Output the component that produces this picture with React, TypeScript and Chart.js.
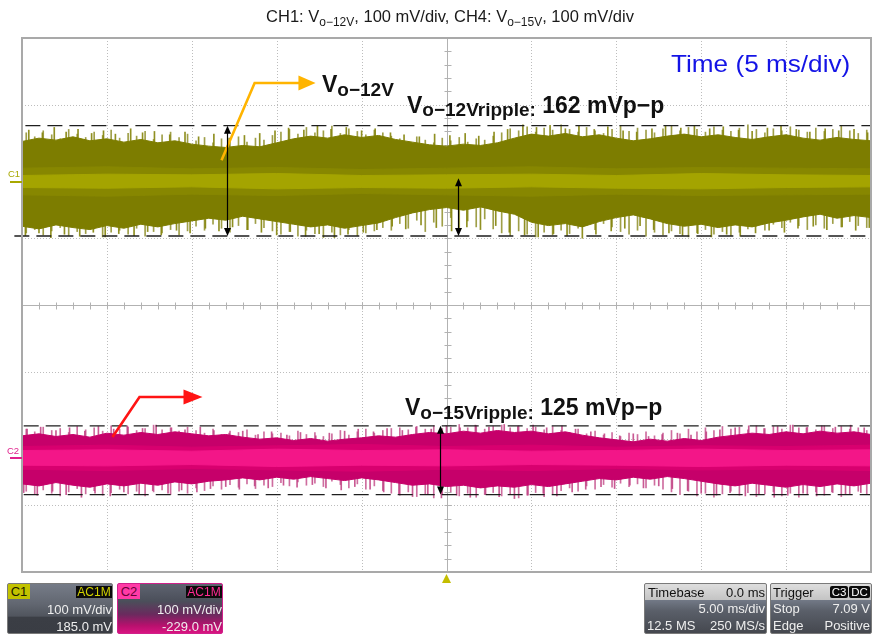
import React, { useEffect, useRef } from "react";
import { Chart, registerables } from "chart.js";

Chart.register(...registerables);

const FONT = '"Liberation Sans", Arial, Helvetica, sans-serif';

// ---------- axes ----------
const timeMin = -25; // ms (5 ms/div, 10 div)
const timeMax = 25;
const mvMin = -400; // mV (100 mV/div, 8 div)
const mvMax = 400;
const gridTimes = [-25, -20, -15, -10, -5, 0, 5, 10, 15, 20, 25];
const gridMv = [-400, -300, -200, -100, 0, 100, 200, 300, 400];

// ---------- channel offsets / cursors ----------
const c1Center = 185;
const c2Center = -229;
const c1Cursors = [268.6, 103.4];
const c2Cursors = [-181, -284];

// ---------- envelope samples (1 ms apart) ----------
const envTime = [-25, -24, -23, -22, -21, -20, -19, -18, -17, -16, -15, -14, -13, -12, -11, -10, -9, -8, -7, -6, -5, -4, -3, -2, -1, 0, 1, 2, 3, 4, 5, 6, 7, 8, 9, 10, 11, 12, 13, 14, 15, 16, 17, 18, 19, 20, 21, 22, 23, 24, 25];
const c1Upper = [245, 250, 247, 252, 246, 249, 244, 248, 243, 246, 241, 238, 236, 239, 237, 243, 249, 253, 250, 255, 251, 254, 248, 244, 240, 238, 241, 239, 243, 250, 256, 253, 257, 252, 255, 250, 246, 249, 253, 256, 252, 255, 251, 248, 252, 255, 250, 247, 251, 248, 246];
const c1Lower = [118, 114, 120, 116, 113, 119, 115, 121, 117, 122, 126, 130, 127, 133, 129, 125, 121, 117, 120, 115, 119, 123, 131, 138, 143, 146, 142, 147, 141, 136, 124, 119, 122, 117, 125, 131, 135, 129, 122, 118, 121, 116, 120, 117, 123, 127, 132, 136, 130, 134, 131];
const c2Upper = [-196, -193, -197, -194, -198, -192, -195, -191, -194, -190, -193, -196, -194, -198, -201, -199, -203, -200, -204, -201, -199, -196, -198, -194, -191, -193, -189, -192, -188, -191, -189, -193, -190, -195, -199, -202, -205, -201, -204, -200, -203, -198, -195, -192, -194, -190, -193, -189, -192, -190, -194];
const c2Lower = [-268, -271, -266, -270, -273, -268, -271, -267, -270, -265, -268, -264, -262, -259, -262, -258, -261, -257, -260, -263, -259, -262, -266, -270, -268, -272, -270, -274, -271, -273, -269, -272, -268, -264, -260, -262, -258, -261, -257, -260, -264, -268, -271, -267, -270, -273, -269, -272, -268, -271, -267];

// ---------- inner (dense) bands, 5 ms apart ----------
const bandTime = [-25, -20, -15, -10, -5, 0, 5, 10, 15, 20, 25];
const c1MidUpper = [205, 207, 204, 206, 203, 205, 207, 204, 206, 205, 204];
const c1MidLower = [165, 163, 166, 164, 167, 165, 163, 166, 164, 165, 166];
const c1CoreUpper = [194, 196, 195, 197, 194, 195, 196, 194, 197, 195, 194];
const c1CoreLower = [176, 175, 177, 174, 176, 175, 177, 175, 174, 176, 177];
const c2MidUpper = [-212, -210, -213, -211, -209, -212, -210, -213, -211, -212, -210];
const c2MidLower = [-246, -248, -245, -247, -249, -246, -248, -245, -247, -246, -248];
const c2CoreUpper = [-218, -217, -219, -216, -218, -217, -219, -218, -216, -218, -217];
const c2CoreLower = [-240, -241, -239, -242, -240, -241, -239, -240, -242, -240, -241];

// ---------- noise spikes [time ms, peak mV] ----------
const c1SpikesUp: [number, number][] = [[-24.6, 262], [-23.8, 258], [-23.1, 266], [-22.4, 259], [-21.7, 263], [-20.9, 257], [-20.2, 261], [-19.5, 256], [-18.6, 264], [-17.9, 258], [-17.2, 260], [-16.3, 255], [-15.4, 259], [-14.6, 252], [-13.7, 256], [-12.8, 250], [-11.9, 254], [-11.0, 257], [-10.1, 261], [-9.3, 265], [-8.4, 262], [-7.6, 268], [-6.8, 263], [-5.9, 266], [-5.0, 261], [-4.2, 264], [-3.3, 258], [-2.5, 255], [-1.6, 252], [-0.7, 256], [0.2, 254], [1.1, 257], [1.9, 253], [2.8, 259], [3.6, 263], [4.5, 270], [5.3, 266], [6.1, 269], [7.0, 264], [7.8, 268], [8.7, 263], [9.5, 267], [10.4, 261], [11.2, 259], [12.1, 264], [12.9, 268], [13.8, 265], [14.6, 269], [15.5, 264], [16.3, 267], [17.2, 262], [18.0, 260], [18.9, 265], [19.7, 268], [20.6, 263], [21.4, 259], [22.3, 264], [23.1, 261], [24.0, 263], [24.8, 258]];
const c1SpikesDown: [number, number][] = [[-24.8, 104], [-24.0, 108], [-23.3, 101], [-22.5, 106], [-21.6, 103], [-20.8, 109], [-20.1, 102], [-19.3, 107], [-18.4, 104], [-17.6, 110], [-16.8, 105], [-15.9, 112], [-15.1, 108], [-14.2, 115], [-13.4, 111], [-12.6, 117], [-11.7, 113], [-10.9, 109], [-10.0, 105], [-9.2, 110], [-8.3, 103], [-7.5, 107], [-6.6, 101], [-5.8, 106], [-4.9, 109], [-4.1, 113], [-3.2, 118], [-2.4, 114], [-1.5, 120], [-0.6, 116], [0.3, 111], [1.2, 117], [2.0, 113], [2.9, 119], [3.7, 109], [4.6, 105], [5.4, 102], [6.3, 107], [7.1, 104], [8.0, 100], [8.8, 106], [9.7, 111], [10.5, 115], [11.4, 119], [12.2, 113], [13.1, 108], [13.9, 104], [14.8, 107], [15.6, 102], [16.5, 106], [17.3, 103], [18.2, 108], [19.0, 112], [19.9, 109], [20.7, 115], [21.6, 118], [22.4, 113], [23.3, 117], [24.1, 112], [24.9, 116]];
const c2SpikesUp: [number, number][] = [[-24.7, -186], [-23.9, -183], [-23.0, -188], [-22.2, -184], [-21.3, -189], [-20.5, -182], [-19.6, -186], [-18.8, -181], [-17.9, -185], [-17.1, -180], [-16.2, -184], [-15.4, -187], [-14.5, -183], [-13.7, -188], [-12.8, -192], [-12.0, -189], [-11.1, -194], [-10.3, -190], [-9.4, -195], [-8.6, -191], [-7.7, -196], [-6.9, -192], [-6.0, -189], [-5.2, -186], [-4.3, -190], [-3.5, -185], [-2.6, -188], [-1.8, -183], [-0.9, -186], [0.0, -181], [0.8, -184], [1.7, -180], [2.5, -183], [3.4, -179], [4.2, -182], [5.1, -180], [5.9, -184], [6.8, -181], [7.6, -186], [8.5, -190], [9.3, -193], [10.2, -196], [11.0, -193], [11.9, -197], [12.7, -194], [13.6, -192], [14.4, -195], [15.3, -190], [16.1, -187], [17.0, -184], [17.8, -181], [18.7, -185], [19.5, -182], [20.4, -180], [21.2, -184], [22.1, -181], [22.9, -183], [23.8, -180], [24.6, -184]];
const c2SpikesDown: [number, number][] = [[-24.9, -281], [-24.1, -285], [-23.2, -279], [-22.4, -284], [-21.5, -288], [-20.7, -282], [-19.8, -286], [-19.0, -280], [-18.1, -284], [-17.3, -278], [-16.4, -282], [-15.6, -277], [-14.7, -280], [-13.9, -275], [-13.0, -272], [-12.2, -276], [-11.3, -271], [-10.5, -274], [-9.6, -270], [-8.8, -273], [-7.9, -269], [-7.1, -274], [-6.2, -277], [-5.4, -272], [-4.5, -276], [-3.7, -280], [-2.8, -283], [-2.0, -287], [-1.1, -284], [-0.3, -289], [0.6, -285], [1.4, -288], [2.3, -284], [3.1, -287], [4.0, -290], [4.8, -285], [5.7, -282], [6.5, -286], [7.4, -280], [8.2, -276], [9.1, -272], [9.9, -275], [10.8, -270], [11.6, -274], [12.5, -271], [13.3, -275], [14.2, -278], [15.0, -282], [15.9, -285], [16.7, -281], [17.6, -286], [18.4, -283], [19.3, -288], [20.1, -285], [21.0, -282], [21.8, -286], [22.7, -280], [23.5, -284], [24.4, -281]];

// ---------- finer noise "grass", sampled every 0.5 ms starting at -24.75 ms ----------
const grassStart = -24.75;
const grassStep = 0.5;
const c1GrassUp = [258, 252, 261, 255, 249, 263, 256, 251, 259, 254, 262, 250, 257, 253, 260, 248, 255, 259, 251, 256, 246, 251, 243, 249, 245, 252, 244, 250, 247, 254, 259, 263, 256, 266, 258, 261, 268, 257, 264, 260, 255, 262, 258, 253, 249, 245, 252, 247, 243, 250, 246, 251, 244, 249, 247, 253, 258, 264, 261, 267, 259, 265, 262, 270, 263, 259, 266, 261, 257, 263, 268, 260, 265, 262, 258, 264, 269, 261, 266, 263, 259, 267, 262, 260, 265, 270, 263, 258, 264, 261, 267, 262, 259, 265, 260, 263, 268, 261, 257, 262];
const c1GrassDown = [108, 113, 105, 111, 116, 104, 110, 107, 114, 102, 109, 112, 106, 115, 103, 110, 108, 113, 105, 111, 118, 112, 121, 115, 109, 119, 113, 122, 116, 111, 106, 110, 103, 112, 107, 101, 109, 105, 113, 104, 108, 111, 116, 112, 122, 115, 127, 110, 124, 118, 131, 112, 126, 117, 129, 114, 108, 104, 111, 106, 102, 109, 105, 112, 107, 115, 119, 113, 122, 117, 110, 106, 112, 103, 109, 105, 111, 107, 102, 108, 113, 106, 110, 104, 109, 114, 118, 112, 121, 116, 124, 119, 113, 120, 115, 122, 117, 125, 119, 116];
const c2GrassUp = [-186, -190, -183, -188, -185, -191, -182, -187, -184, -189, -181, -186, -183, -188, -185, -180, -187, -184, -189, -183, -188, -192, -186, -194, -189, -191, -187, -195, -190, -193, -192, -196, -189, -194, -191, -197, -193, -188, -195, -190, -186, -192, -188, -185, -184, -187, -182, -186, -181, -185, -183, -179, -184, -181, -186, -182, -180, -184, -181, -185, -183, -187, -182, -188, -191, -186, -193, -189, -195, -191, -197, -192, -194, -190, -196, -192, -188, -193, -186, -190, -184, -188, -182, -186, -183, -187, -181, -185, -182, -186, -180, -184, -183, -187, -181, -185, -182, -186, -184, -188];
const c2GrassDown = [-279, -284, -277, -282, -286, -280, -275, -283, -278, -285, -281, -276, -283, -279, -286, -280, -277, -284, -279, -282, -274, -278, -271, -276, -269, -273, -268, -275, -270, -272, -266, -271, -265, -270, -267, -272, -264, -269, -274, -268, -276, -271, -278, -282, -285, -280, -287, -283, -289, -284, -280, -286, -282, -288, -284, -281, -286, -283, -289, -285, -281, -287, -283, -278, -274, -279, -271, -276, -269, -273, -267, -272, -268, -274, -270, -276, -280, -284, -279, -286, -282, -288, -283, -279, -285, -281, -287, -283, -280, -286, -282, -288, -284, -280, -285, -281, -287, -283, -279, -284];

// ---------- annotations (data units) ----------
const yellowArrow: [number, number][] = [[-13.25, 217], [-11.3, 332.6], [-8.66, 332.6]];
const yellowArrowTip: [number, number] = [-7.71, 332.6];
const redArrow: [number, number][] = [[-19.67, -197.7], [-18.08, -137.8], [-15.43, -137.8]];
const redArrowTip: [number, number] = [-14.37, -137.8];
const ripple1a = { t: -12.9, from: 268.6, to: 103.4 };
const ripple1b = { t: 0.65, from: 190, to: 103.4 };
const ripple2 = { t: -0.41, from: -181, to: -284 };

const colors = {
  c1Body: "#7d7d00",
  c1Spike: "rgba(132,132,10,0.9)",
  c1Grass: "rgba(142,142,40,0.85)",
  c1Mid: "#878700",
  c1Core: "#a4a400",
  c1Marker: "#a8a800",
  c2Body: "#c6006a",
  c2Spike: "rgba(192,60,128,0.85)",
  c2Grass: "rgba(198,84,142,0.85)",
  c2Mid: "#d8006f",
  c2Core: "#f31688",
  c2Marker: "#e0208c",
};

const pts = (xs: number[], ys: number[]) => xs.map((x, i) => ({ x, y: ys[i] }));
const spikeBars = (list: [number, number][], center: number) => list.map(([x, v]) => ({ x, y: [center, v] }));
const grassBars = (vals: number[], center: number) => vals.map((v, i) => ({ x: grassStart + grassStep * i, y: [center, v] }));

function fillPair(upper: number[], lower: number[], xs: number[], color: string, order: number) {
  return [
    { type: "line", data: pts(xs, upper), borderColor: color, backgroundColor: color, borderWidth: 1, pointRadius: 0, tension: 0, fill: "+1", order },
    { type: "line", data: pts(xs, lower), borderColor: color, backgroundColor: color, borderWidth: 1, pointRadius: 0, tension: 0, fill: false, order },
  ];
}

function dashed(y: number, x0: number) {
  return { type: "line", data: [{ x: x0, y }, { x: timeMax, y }], borderColor: "#1e1e1e", borderWidth: 1.3, borderDash: [15, 7], pointRadius: 0, fill: false, clip: false, order: 0 };
}

function bars(data: any[], color: string) {
  return { type: "bar", data, backgroundColor: color, borderWidth: 0, barThickness: 1, grouped: false, order: 10 };
}

const scopePlugin = {
  id: "scope",
  beforeDatasetsDraw(chart: any) {
    const { ctx, chartArea: a, scales } = chart;
    const x = scales.x, y = scales.y;
    ctx.save();
    ctx.lineWidth = 1;
    ctx.strokeStyle = "#bdbdbd";
    ctx.setLineDash([1, 2]);
    for (const t of gridTimes) {
      if (t === 0 || t === timeMin || t === timeMax) continue;
      const px = Math.round(x.getPixelForValue(t)) + 0.5;
      ctx.beginPath(); ctx.moveTo(px, a.top); ctx.lineTo(px, a.bottom); ctx.stroke();
    }
    for (const v of gridMv) {
      if (v === 0 || v === mvMin || v === mvMax) continue;
      const py = Math.round(y.getPixelForValue(v)) + 0.5;
      ctx.beginPath(); ctx.moveTo(a.left, py); ctx.lineTo(a.right, py); ctx.stroke();
    }
    ctx.setLineDash([]);
    ctx.strokeStyle = "#b2b2b2";
    const cx = Math.round(x.getPixelForValue(0)) + 0.5;
    const cy = Math.round(y.getPixelForValue(0)) + 0.5;
    ctx.beginPath(); ctx.moveTo(cx, a.top); ctx.lineTo(cx, a.bottom); ctx.stroke();
    ctx.beginPath(); ctx.moveTo(a.left, cy); ctx.lineTo(a.right, cy); ctx.stroke();
    for (let v = mvMin + 20; v < mvMax; v += 20) {
      const py = Math.round(y.getPixelForValue(v)) + 0.5;
      ctx.beginPath(); ctx.moveTo(cx - 3, py); ctx.lineTo(cx + 4, py); ctx.stroke();
    }
    for (let t = timeMin + 1; t < timeMax; t += 1) {
      const px = Math.round(x.getPixelForValue(t)) + 0.5;
      ctx.beginPath(); ctx.moveTo(px, cy - 3); ctx.lineTo(px, cy + 4); ctx.stroke();
    }
    ctx.restore();
  },
  afterDatasetsDraw(chart: any) {
    const { ctx, chartArea: a, scales } = chart;
    const x = scales.x, y = scales.y;
    const P = (p: [number, number]) => [x.getPixelForValue(p[0]), y.getPixelForValue(p[1])];
    ctx.save();
    ctx.strokeStyle = "#a9a9a9";
    ctx.lineWidth = 2;
    ctx.strokeRect(a.left, a.top, a.right - a.left, a.bottom - a.top);

    const callout = (path: [number, number][], tip: [number, number], color: string) => {
      ctx.strokeStyle = color; ctx.fillStyle = color; ctx.lineWidth = 2.6; ctx.lineJoin = "miter";
      ctx.beginPath();
      path.forEach((p, i) => { const [px, py] = P(p); if (i === 0) ctx.moveTo(px, py); else ctx.lineTo(px, py); });
      ctx.stroke();
      const [bx, by] = P(path[path.length - 1]);
      const [tx, ty] = P(tip);
      ctx.beginPath(); ctx.moveTo(bx - 1, by - 7.5); ctx.lineTo(tx, ty); ctx.lineTo(bx - 1, by + 7.5); ctx.closePath(); ctx.fill();
    };
    callout(yellowArrow, yellowArrowTip, "#ffb400");
    callout(redArrow, redArrowTip, "#ff1414");

    const dbl = (r: { t: number; from: number; to: number }) => {
      const px = Math.round(x.getPixelForValue(r.t)) + 0.5;
      const y1 = y.getPixelForValue(r.from), y2 = y.getPixelForValue(r.to);
      ctx.strokeStyle = "#000"; ctx.fillStyle = "#000"; ctx.lineWidth = 1.2;
      ctx.beginPath(); ctx.moveTo(px, y1 + 4); ctx.lineTo(px, y2 - 4); ctx.stroke();
      ctx.beginPath(); ctx.moveTo(px, y1); ctx.lineTo(px - 3.5, y1 + 8); ctx.lineTo(px + 3.5, y1 + 8); ctx.closePath(); ctx.fill();
      ctx.beginPath(); ctx.moveTo(px, y2); ctx.lineTo(px - 3.5, y2 - 8); ctx.lineTo(px + 3.5, y2 - 8); ctx.closePath(); ctx.fill();
    };
    dbl(ripple1a); dbl(ripple1b); dbl(ripple2);

    ctx.lineWidth = 2;
    ctx.strokeStyle = colors.c1Marker;
    let py = Math.round(y.getPixelForValue(c1Center));
    ctx.beginPath(); ctx.moveTo(10, py); ctx.lineTo(a.left, py); ctx.stroke();
    ctx.strokeStyle = colors.c2Marker;
    py = Math.round(y.getPixelForValue(c2Center));
    ctx.beginPath(); ctx.moveTo(10, py); ctx.lineTo(a.left, py); ctx.stroke();

    const tx = x.getPixelForValue(0);
    ctx.fillStyle = "#c4bd00";
    ctx.beginPath(); ctx.moveTo(tx, a.bottom + 2); ctx.lineTo(tx - 4.5, a.bottom + 11); ctx.lineTo(tx + 4.5, a.bottom + 11); ctx.closePath(); ctx.fill();
    ctx.restore();
  },
};

function Label(props: { x: number; base: number; size: number; bold?: boolean; color?: string; center?: boolean; scaleX?: number; children: any }) {
  const { x, base, size, bold, color, center, scaleX, children } = props;
  let transform: string | undefined = undefined;
  if (center) transform = "translateX(-50%)";
  if (scaleX) transform = `scaleX(${scaleX})`;
  return (
    <div
      style={{
        position: "absolute",
        left: x,
        top: base - 0.8465 * size,
        fontSize: size,
        lineHeight: `${size}px`,
        fontWeight: bold ? 700 : 400,
        color: color || "#111",
        whiteSpace: "nowrap",
        transform,
        transformOrigin: "left top",
        fontFamily: FONT,
      }}
    >
      {children}
    </div>
  );
}

function Sub(props: { size: number; shift: number; children: any }) {
  return <span style={{ fontSize: props.size, position: "relative", top: props.shift, lineHeight: "0px" }}>{props.children}</span>;
}

const panelText: React.CSSProperties = { position: "absolute", fontSize: 13, lineHeight: "15px", color: "#eeeeee", whiteSpace: "nowrap", fontFamily: FONT };

export default function App() {
  const ref = useRef<HTMLCanvasElement>(null);
  useEffect(() => {
    if (!ref.current) return;
    const datasets: any[] = [
      dashed(c1Cursors[0], -24.8),
      dashed(c1Cursors[1], -25.45),
      dashed(c2Cursors[0], -24.9),
      dashed(c2Cursors[1], -24.9),
      ...fillPair(c1CoreUpper, c1CoreLower, bandTime, colors.c1Core, 1),
      ...fillPair(c1MidUpper, c1MidLower, bandTime, colors.c1Mid, 2),
      ...fillPair(c1Upper, c1Lower, envTime, colors.c1Body, 3),
      ...fillPair(c2CoreUpper, c2CoreLower, bandTime, colors.c2Core, 1),
      ...fillPair(c2MidUpper, c2MidLower, bandTime, colors.c2Mid, 2),
      ...fillPair(c2Upper, c2Lower, envTime, colors.c2Body, 3),
      bars(spikeBars(c1SpikesUp, c1Center), colors.c1Spike),
      bars(spikeBars(c1SpikesDown, c1Center), colors.c1Spike),
      bars(spikeBars(c2SpikesUp, c2Center), colors.c2Spike),
      bars(spikeBars(c2SpikesDown, c2Center), colors.c2Spike),
      bars(grassBars(c1GrassUp, c1Center), colors.c1Grass),
      bars(grassBars(c1GrassDown, c1Center), colors.c1Grass),
      bars(grassBars(c2GrassUp, c2Center), colors.c2Grass),
      bars(grassBars(c2GrassDown, c2Center), colors.c2Grass),
    ];
    const chart = new Chart(ref.current, {
      type: "line",
      data: { datasets },
      options: {
        animation: false,
        responsive: false,
        devicePixelRatio: 1,
        events: [],
        layout: { padding: { left: 22, top: 38, right: 7, bottom: 67 } },
        plugins: { legend: { display: false }, tooltip: { enabled: false }, title: { display: false } },
        scales: {
          x: { type: "linear", min: timeMin, max: timeMax, display: false, offset: false },
          y: { type: "linear", min: mvMin, max: mvMax, display: false },
        },
      } as any,
      plugins: [scopePlugin],
    } as any);
    return () => chart.destroy();
  }, []);

  return (
    <div style={{ position: "fixed", left: 0, top: 0, width: 878, height: 639, background: "#fff", overflow: "hidden", fontFamily: FONT }}>
      <canvas ref={ref} width={878} height={639} style={{ position: "absolute", left: 0, top: 0, width: 878, height: 639 }} />

      <Label x={450} base={22} size={16.5} center color="#1a1a1a">
        CH1: V<Sub size={12} shift={4}>o−12V</Sub>, 100 mV/div, CH4: V<Sub size={12} shift={4}>o−15V</Sub>, 100 mV/div
      </Label>
      <Label x={671} base={72} size={24} color="#1414e6" scaleX={1.09}>Time (5 ms/div)</Label>

      <Label x={322} base={92} size={23} bold>V<Sub size={19} shift={4}>o−12V</Sub></Label>
      <Label x={407} base={113.3} size={23} bold>V<Sub size={19} shift={3.5}>o−12Vripple:</Sub> 162 mVp−p</Label>
      <Label x={405} base={415} size={23} bold>V<Sub size={19} shift={4}>o−15Vripple:</Sub> 125 mVp−p</Label>

      <Label x={8} base={177} size={9.5} color={colors.c1Marker}>C1</Label>
      <Label x={7} base={454} size={9.5} color={colors.c2Marker}>C2</Label>

      {/* C1 panel */}
      <div style={{ position: "absolute", left: 7, top: 583, width: 106, height: 51, border: "1px solid #7a7a7a", borderRadius: 2, boxSizing: "border-box", overflow: "hidden", background: "linear-gradient(180deg,#767c88 0%,#626771 40%,#50545d 66%,#3b3e45 67%,#3a3d44 100%)" }}>
        <div style={{ ...panelText, left: 0, top: 0, width: 22, height: 15, background: "#c2c200", color: "#1a1a00", textAlign: "center" }}>C1</div>
        <div style={{ ...panelText, right: 0, top: 2, width: 36, height: 12, lineHeight: "12px", fontSize: 12, background: "#0b0b0b", color: "#d2d200", textAlign: "center" }}>AC1M</div>
        <div style={{ ...panelText, right: 0, top: 18 }}>100 mV/div</div>
        <div style={{ ...panelText, right: 0, top: 35 }}>185.0 mV</div>
      </div>

      {/* C2 panel */}
      <div style={{ position: "absolute", left: 117, top: 583, width: 106, height: 51, border: "1px solid #d0208a", borderRadius: 2, boxSizing: "border-box", overflow: "hidden", background: "linear-gradient(180deg,#5e6370 0%,#4b4f5a 35%,#6a2a5e 62%,#b8106e 85%,#d81480 100%)" }}>
        <div style={{ ...panelText, left: 0, top: 0, width: 22, height: 15, background: "#ff3aa6", color: "#6a0038", textAlign: "center" }}>C2</div>
        <div style={{ ...panelText, right: 0, top: 2, width: 36, height: 12, lineHeight: "12px", fontSize: 12, background: "#0b0b0b", color: "#ff2a92", textAlign: "center" }}>AC1M</div>
        <div style={{ ...panelText, right: 0, top: 18 }}>100 mV/div</div>
        <div style={{ ...panelText, right: 0, top: 35 }}>-229.0 mV</div>
      </div>

      {/* Timebase panel */}
      <div style={{ position: "absolute", left: 644, top: 583, width: 123, height: 51, border: "1px solid #7a7a7a", borderRadius: 2, boxSizing: "border-box", overflow: "hidden", background: "linear-gradient(180deg,#dedede 0%,#c4c4c4 32%,#727986 33%,#5a5f69 55%,#45484f 100%)" }}>
        <div style={{ ...panelText, left: 3, top: 1, color: "#111" }}>Timebase</div>
        <div style={{ ...panelText, right: 1, top: 1, color: "#111" }}>0.0 ms</div>
        <div style={{ ...panelText, right: 1, top: 17 }}>5.00 ms/div</div>
        <div style={{ ...panelText, left: 2, top: 34 }}>12.5 MS</div>
        <div style={{ ...panelText, right: 1, top: 34 }}>250 MS/s</div>
      </div>

      {/* Trigger panel */}
      <div style={{ position: "absolute", left: 770, top: 583, width: 102, height: 51, border: "1px solid #7a7a7a", borderRadius: 2, boxSizing: "border-box", overflow: "hidden", background: "linear-gradient(180deg,#dedede 0%,#c4c4c4 32%,#727986 33%,#5a5f69 55%,#45484f 100%)" }}>
        <div style={{ ...panelText, left: 2, top: 1, color: "#111" }}>Trigger</div>
        <div style={{ ...panelText, left: 59, top: 2, width: 18, height: 12, lineHeight: "12px", fontSize: 11.5, background: "#0b0b0b", color: "#fff", textAlign: "center", borderRadius: 2 }}>C3</div>
        <div style={{ ...panelText, left: 78, top: 2, width: 21, height: 12, lineHeight: "12px", fontSize: 11.5, background: "#0b0b0b", color: "#fff", textAlign: "center", borderRadius: 2 }}>DC</div>
        <div style={{ ...panelText, left: 2, top: 17 }}>Stop</div>
        <div style={{ ...panelText, right: 1, top: 17 }}>7.09 V</div>
        <div style={{ ...panelText, left: 2, top: 34 }}>Edge</div>
        <div style={{ ...panelText, right: 1, top: 34 }}>Positive</div>
      </div>
    </div>
  );
}
